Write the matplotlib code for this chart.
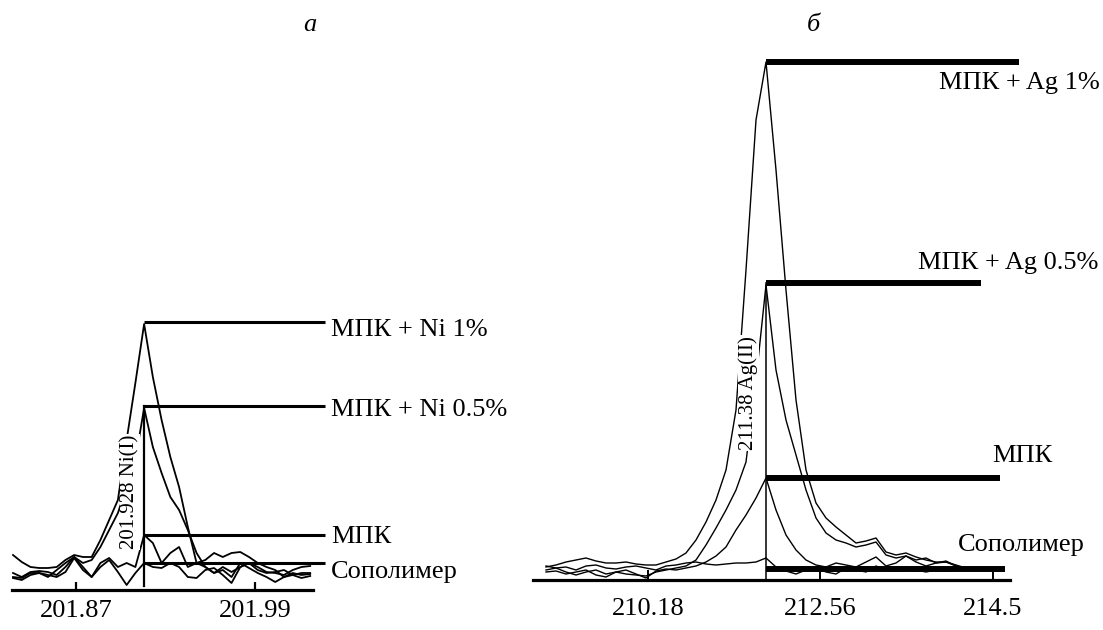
import numpy as np
import matplotlib.pyplot as plt

plt.rcParams['font.family'] = ['Liberation Serif', 'DejaVu Serif']

# panel a: Ni, intensity vs channel (35 points)
ni_1 = [35, 28, 23, 22, 22, 23, 30, 35, 33, 33, 50, 70, 90, 150, 207, 266,
        213, 170, 133, 103, 63, 27, 30, 37, 33, 37, 38, 33, 27, 23, 20, 13, 15, 17, 17]
ni_05 = [17, 13, 18, 19, 18, 15, 23, 33, 27, 30, 43, 60, 77, 103, 130, 182,
         143, 117, 93, 80, 60, 37, 23, 17, 23, 18, 23, 27, 20, 17, 18, 20, 15, 12, 14]
mpk_a = [13, 12, 17, 17, 13, 20, 27, 33, 23, 13, 27, 32, 23, 27, 23, 55,
         47, 27, 37, 43, 23, 27, 23, 17, 20, 13, 27, 22, 17, 13, 8, 13, 17, 15, 16]
copol_a = [12, 10, 15, 17, 15, 13, 18, 32, 20, 13, 23, 30, 18, 5, 17, 27,
           23, 22, 27, 23, 13, 12, 20, 22, 15, 7, 23, 27, 23, 18, 17, 15, 20, 23, 24]
peak_a = 15
levels_a = [268, 184, 55, 27]
labels_a = ['МПК + Ni 1%', 'МПК + Ni 0.5%', 'МПК', 'Сополимер']
label_y_a = [260, 180, 53, 18]
ticks_a = [7.2, 27.7]
ticklabels_a = ['201.87', '201.99']

# panel b: Ag, intensity vs channel (43 points)
ag_1 = [13, 15, 18, 20, 22, 19, 17, 17, 18, 16, 15, 15, 18, 21, 27, 40, 58, 80, 110, 170, 310, 460,
        518, 410, 290, 180, 110, 77, 62, 53, 45, 37, 39, 42, 28, 25, 27, 23, 20, 18, 18, 15, 12]
ag_05 = [10, 12, 8, 5, 8, 10, 6, 8, 6, 5, 4, 8, 10, 12, 14, 20, 35, 52, 70, 90, 118, 200,
         295, 210, 160, 125, 90, 62, 47, 40, 37, 33, 35, 38, 25, 22, 24, 20, 22, 17, 18, 14, 12]
mpk_b = [8, 9, 6, 8, 10, 5, 3, 8, 10, 6, 2, 9, 11, 10, 12, 14, 18, 24, 33, 50, 65, 82,
         102, 70, 45, 30, 20, 15, 13, 17, 15, 13, 18, 23, 14, 17, 24, 18, 14, 17, 19, 14, 10]
copol_b = [14, 12, 13, 10, 14, 15, 12, 11, 13, 14, 12, 10, 14, 15, 17, 18, 16, 15, 16, 17, 17, 18,
           22, 13, 9, 6, 10, 12, 8, 6, 12, 10, 8, 14, 10, 9, 12, 10, 8, 10, 9, 11, 10]
peak_b = 22
levels_b = [518, 297, 102, 11]
ends_b = [47.3, 43.5, 45.4, 45.9]
labels_b = ['МПК + Ag 1%', 'МПК + Ag 0.5%', 'МПК', 'Сополимер']
label_x_b = [39.3, 37.2, 44.6, 41.2]
label_y_b = [497, 317, 124, 35]
ticks_b = [10.2, 27.4, 44.7]
ticklabels_b = ['210.18', '212.56', '214.5']

fig = plt.figure(figsize=(11.03, 6.30), dpi=100)
W, H = 1103, 630
white = dict(facecolor='white', edgecolor='none', pad=0.5)

# ---- panel a ----
ax = fig.add_axes([12 / W, 40 / H, 301 / W, 290 / H])
x = np.arange(len(ni_1))
for y in [ni_1, ni_05, mpk_a, copol_a]:
    ax.plot(x, y, color='black', lw=1.3)
for lev in levels_a:
    ax.plot([peak_a, 35.7], [lev, lev], color='black', lw=2.2, clip_on=False,
            solid_capstyle='butt')
ax.plot([peak_a, peak_a], [4, levels_a[1]], color='black', lw=1.6)
for lab, ly in zip(labels_a, label_y_a):
    ax.text(36.4, ly, lab, fontsize=19, ha='left', va='center')
ax.text(14.5, 98, '201.928 Ni(I)', rotation=90, fontsize=15, ha='right', va='center',
        bbox=white, zorder=5)
ax.set_xlim(-0.114, 34.32)
ax.set_ylim(0, 290)
ax.set_xticks(ticks_a)
ax.set_xticklabels(ticklabels_a, fontsize=19)
ax.tick_params(axis='x', direction='in', length=6, width=1.6, pad=7)
ax.set_yticks([])
for s in ['top', 'left', 'right']:
    ax.spines[s].set_visible(False)
ax.spines['bottom'].set_linewidth(2.3)
ax.patch.set_alpha(0)

# ---- panel b ----
ax2 = fig.add_axes([533 / W, 50 / H, 477 / W, 540 / H])
x2 = np.arange(len(ag_1))
for y in [ag_1, ag_05, mpk_b, copol_b]:
    ax2.plot(x2, y, color='black', lw=1.0)
for lev, end in zip(levels_b, ends_b):
    ax2.plot([peak_b, end], [lev, lev], color='black', lw=4.3, clip_on=False,
             solid_capstyle='butt')
ax2.plot([peak_b, peak_b], [0, levels_b[1]], color='black', lw=1.1)
for lab, lx, ly in zip(labels_b, label_x_b, label_y_b):
    ax2.text(lx, ly, lab, fontsize=19, ha='left', va='center')
ax2.text(21.2, 187, '211.38 Ag(II)', rotation=90, fontsize=15, ha='right', va='center',
         bbox=white, zorder=5)
ax2.set_xlim(-1.3, 46.4)
ax2.set_ylim(0, 540)
ax2.set_xticks(ticks_b)
ax2.set_xticklabels(ticklabels_b, fontsize=19)
ax2.tick_params(axis='x', direction='in', length=7, width=1.4, pad=13)
ax2.set_yticks([])
for s in ['top', 'left', 'right']:
    ax2.spines[s].set_visible(False)
ax2.spines['bottom'].set_linewidth(2.3)
ax2.patch.set_alpha(0)

fig.text(310 / W, 1 - 25 / H, 'а', fontsize=19, style='italic', ha='center', va='center')
fig.text(813 / W, 1 - 25 / H, 'б', fontsize=19, style='italic', ha='center', va='center')

fig.savefig('out.png', dpi=100)
